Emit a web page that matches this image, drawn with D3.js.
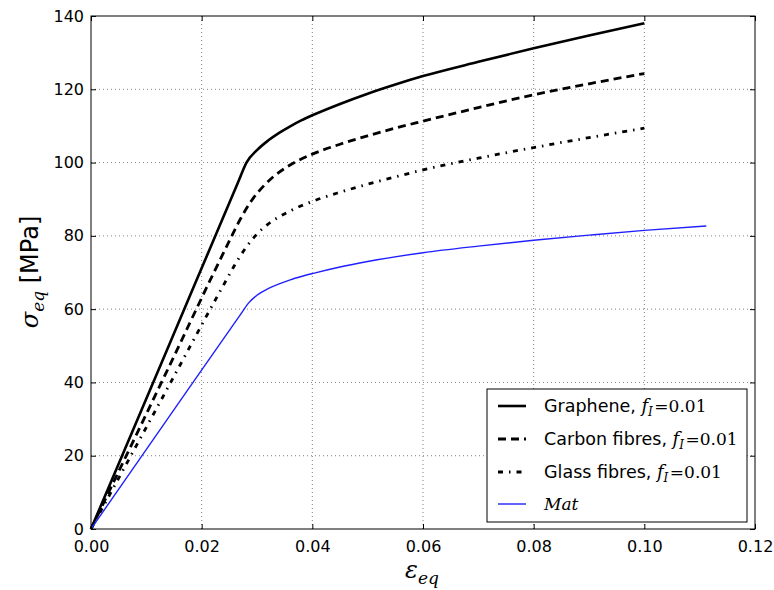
<!DOCTYPE html>
<html>
<head>
<meta charset="utf-8">
<script src="https://cdn.jsdelivr.net/npm/d3@7"></script>
<style>
body { margin: 0; background: #fff; }
text { font-family: "DejaVu Sans", sans-serif; fill: #000; }
.math { font-family: "DejaVu Serif", serif; font-style: italic; }
</style>
</head>
<body>
<script>
// tick values
const xTicks = [0, 0.02, 0.04, 0.06, 0.08, 0.10, 0.12];
const yTicks = [0, 20, 40, 60, 80, 100, 120, 140];

// curves (strain, stress in MPa)
const grapheneStrain = [0, 0.014, 0.0266, 0.0281, 0.030, 0.032, 0.034, 0.036, 0.038, 0.040, 0.045, 0.050, 0.055, 0.060, 0.070, 0.080, 0.090, 0.100];
const grapheneStress = [0, 49.8, 94.7, 100, 103.4, 106.0, 108.1, 109.9, 111.5, 112.9, 116.0, 118.8, 121.3, 123.6, 127.5, 131.2, 134.7, 138];

const carbonStrain = [0, 0.0135, 0.025, 0.027, 0.029, 0.031, 0.033, 0.035, 0.037, 0.040, 0.045, 0.050, 0.055, 0.060, 0.070, 0.080, 0.090, 0.100];
const carbonStress = [0, 42.4, 78.6, 84.6, 89.6, 93.3, 96.2, 98.4, 100.2, 102.3, 105.0, 107.3, 109.4, 111.3, 115.0, 118.5, 121.5, 124.3];

const glassStrain = [0, 0.013, 0.024, 0.026, 0.028, 0.030, 0.032, 0.034, 0.036, 0.038, 0.040, 0.045, 0.050, 0.055, 0.060, 0.070, 0.080, 0.090, 0.100];
const glassStress = [0, 36.1, 66.7, 72.1, 76.8, 80.5, 83.2, 85.2, 86.8, 88.2, 89.4, 91.9, 94.1, 96.1, 98.0, 101.2, 104.1, 106.8, 109.4];

const matStrain = [0, 0.014, 0.027, 0.0285, 0.030, 0.032, 0.034, 0.036, 0.038, 0.040, 0.045, 0.050, 0.060, 0.070, 0.080, 0.090, 0.100, 0.1112];
const matStress = [0, 30.4, 58.5, 61.7, 63.8, 65.6, 66.9, 68.0, 68.9, 69.7, 71.5, 73.0, 75.4, 77.2, 78.8, 80.2, 81.5, 82.7];

// legend labels
const names = ["Graphene, ", "Carbon fibres, ", "Glass fibres, ", "Mat"];

let width = 774, height = 590;
let padding = { left: 91, right: 19, top: 16, bottom: 61 };
let w = width - padding.left - padding.right;
let h = height - padding.top - padding.bottom;

let svg = d3.select("body").append("svg")
    .attr("width", width).attr("height", height);
let g = svg.append("g").attr("transform", `translate(${padding.left},${padding.top})`);

let x = d3.scaleLinear().domain([0, 0.12]).range([0, w]);
let y = d3.scaleLinear().domain([0, 140]).range([h, 0]);

// grid
g.append("g").selectAll("line").data(xTicks.slice(1, -1)).join("line")
    .attr("x1", d => x(d)).attr("x2", d => x(d)).attr("y1", 0).attr("y2", h)
    .attr("stroke", "#000").attr("stroke-width", 0.7).attr("stroke-dasharray", "1,3").attr("opacity", 0.7);
g.append("g").selectAll("line").data(yTicks.slice(1, -1)).join("line")
    .attr("y1", d => y(d)).attr("y2", d => y(d)).attr("x1", 0).attr("x2", w)
    .attr("stroke", "#000").attr("stroke-width", 0.7).attr("stroke-dasharray", "1,3").attr("opacity", 0.7);

// series
let series = [
    { xs: grapheneStrain, ys: grapheneStress, color: "#000", width: 2.6, dash: null },
    { xs: carbonStrain, ys: carbonStress, color: "#000", width: 2.8, dash: "8,5" },
    { xs: glassStrain, ys: glassStress, color: "#000", width: 2.8, dash: "5,6,1.5,6" },
    { xs: matStrain, ys: matStress, color: "#2020ff", width: 1.4, dash: null }
];

let line = d3.line().x(d => x(d[0])).y(d => y(d[1])).curve(d3.curveMonotoneX);
series.forEach(s => {
    g.append("path")
        .datum(s.xs.map((v, i) => [v, s.ys[i]]))
        .attr("d", line)
        .attr("fill", "none")
        .attr("stroke", s.color)
        .attr("stroke-width", s.width)
        .attr("stroke-dasharray", s.dash);
});

// axes, ticks inward on all four sides
function styleAxis(a) {
    a.select(".domain").remove();
    a.selectAll("line").attr("stroke", "#000").attr("stroke-width", 1);
    a.selectAll("text").style("font-size", "16px").attr("fill", "#000");
}
g.append("g").attr("transform", `translate(0,${h})`)
    .call(d3.axisBottom(x).tickValues(xTicks).tickFormat(d3.format(".2f")).tickSize(-5).tickPadding(12))
    .call(styleAxis);
g.append("g")
    .call(d3.axisTop(x).tickValues(xTicks).tickFormat("").tickSize(-5))
    .call(styleAxis);
g.append("g")
    .call(d3.axisLeft(y).tickValues(yTicks).tickFormat(d3.format("d")).tickSize(-5).tickPadding(7))
    .call(styleAxis);
g.append("g").attr("transform", `translate(${w},0)`)
    .call(d3.axisRight(y).tickValues(yTicks).tickFormat("").tickSize(-5))
    .call(styleAxis);

// frame
g.append("rect").attr("width", w).attr("height", h)
    .attr("fill", "none").attr("stroke", "#000").attr("stroke-width", 1);

// axis labels
let xl = svg.append("text").attr("x", 422).attr("y", 578).attr("text-anchor", "middle")
    .style("font-size", "24px");
xl.append("tspan").attr("class", "math").text("ε");
xl.append("tspan").attr("class", "math").attr("dy", 6).style("font-size", "17px").text("eq");

let yl = svg.append("text").attr("transform", "translate(38,272) rotate(-90)")
    .attr("text-anchor", "middle").style("font-size", "24px");
yl.append("tspan").attr("class", "math").text("σ");
yl.append("tspan").attr("class", "math").attr("dy", 6).style("font-size", "17px").text("eq");
yl.append("tspan").attr("dy", -6).text(" [MPa]");

// legend
let lg = svg.append("g").attr("transform", "translate(487,389)");
lg.append("rect").attr("width", 260).attr("height", 133)
    .attr("fill", "#fff").attr("stroke", "#000").attr("stroke-width", 1);
let rowY = [17, 50, 83, 115];
series.forEach((s, i) => {
    lg.append("line")
        .attr("x1", 11).attr("x2", 39).attr("y1", rowY[i]).attr("y2", rowY[i])
        .attr("stroke", s.color).attr("stroke-width", s.width)
        .attr("stroke-dasharray", s.dash);
    let t = lg.append("text").attr("x", 57).attr("y", rowY[i] + 6).style("font-size", "17.5px");
    if (i < 3) {
        t.append("tspan").text(names[i]);
        t.append("tspan").attr("class", "math").style("font-size", "18px").text("f");
        t.append("tspan").attr("class", "math").attr("dy", 4).style("font-size", "12px").text("I");
        t.append("tspan").attr("dy", -4).attr("dx", 1.5).style("font-family", "DejaVu Serif, serif").style("font-size", "17px").text("=0.01");
    } else {
        t.append("tspan").attr("class", "math").style("font-size", "17px").text(names[i]);
    }
});
</script>
</body>
</html>
